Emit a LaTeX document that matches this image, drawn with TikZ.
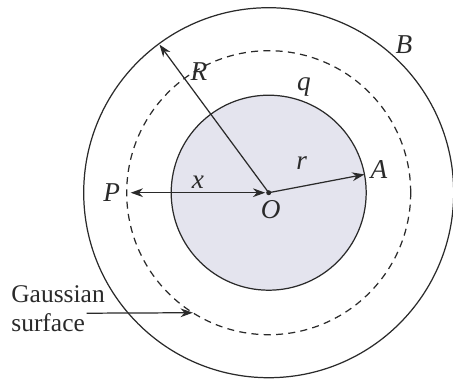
\documentclass[tikz,border=0pt]{standalone}
\usepackage{fontspec}
\setmainfont{Liberation Serif}
\usepackage{tikz}
\usetikzlibrary{arrows.meta, calc}
\definecolor{sphfill}{HTML}{E4E4EE}
\definecolor{inkgray}{HTML}{2A2A2A}
\tikzset{
	thinline/.style={line width=0.7pt, draw=inkgray},
	tiparrow/.style={thinline, -{Stealth[length=7pt, width=5pt]}},
	lbl/.style={font=\fontsize{15.5}{17}\selectfont\itshape, text=inkgray, inner sep=0pt}
}
\begin{document}
\begin{tikzpicture}
      \useasboundingbox (-5.374,-3.726) rectangle (3.686,3.854);
      \coordinate (O) at (0,0);
      \coordinate (Atip) at (10.8:1.95);
      \coordinate (Rtip) at (126.4:3.68);
      \coordinate (Ptip) at (180:2.76);
      \coordinate (Otip) at (-0.07,0);
      \coordinate (Gtip) at (237.7:2.84);
      \coordinate (Gstart) at (-3.64,-2.41);
      \filldraw[thinline, fill=sphfill] (O) circle (1.95);
      \draw[thinline, dashed, dash pattern=on 4pt off 3pt] (O) circle (2.84);
      \draw[thinline] (O) circle (3.70);
      \draw[tiparrow] (O) -- (Rtip);
      \draw[tiparrow] (O) -- (Atip);
      \draw[tiparrow, {Stealth[length=7pt, width=5pt]}-{Stealth[length=7pt, width=5pt]}] (Ptip) -- (Otip);
      \fill[inkgray] (O) circle (0.05);
      \node[lbl] (lR) at (-1.394,2.414) {R};
      \node[lbl] (lA) at (2.206,0.454) {A};
      \node[lbl] (lr) at (0.66,0.594) {r};
      \node[lbl] (lq) at (0.706,2.114) {q};
      \node[lbl] (lB) at (2.706,2.954) {B};
      \node[lbl] (lP) at (-3.14,0) {P};
      \node[lbl] (lx) at (-1.414,0.2) {x};
      \node[lbl] (lO) at (0.04,-0.34) {O};
      \node[lbl, font=\fontsize{14.5}{16.5}\selectfont, align=left, anchor=west] (gauss) at (-5.154,-2.326) {Gaussian\\surface};
      \draw[tiparrow] (Gstart) -- (Gtip);
    \end{tikzpicture}
\end{document}
